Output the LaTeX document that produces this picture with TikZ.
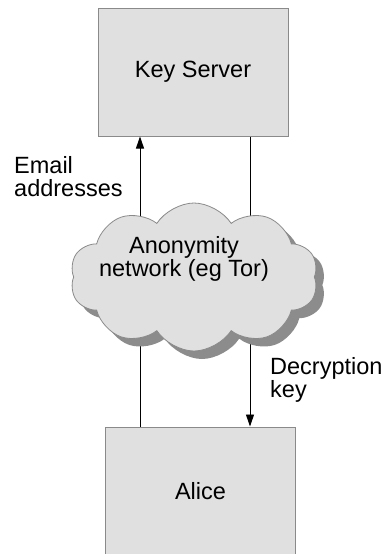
\documentclass[tikz,border=0pt]{standalone}
\usepackage{fontspec}
\setmainfont{Liberation Sans}
\usetikzlibrary{arrows.meta,shapes.symbols,shadows}
\definecolor{boxfill}{HTML}{E0E0E0}
\definecolor{boxline}{HTML}{8A8A8A}
\definecolor{shadowc}{HTML}{8C8C8C}
\begin{document}
\begin{tikzpicture}[x=1pt,y=-1pt,
  every node/.style={font=\fontsize{23.5}{23.5}\selectfont},
  srvbox/.style={draw=boxline,fill=boxfill,line width=1pt,minimum width=190pt,minimum height=128pt,inner sep=0pt},
  conn/.style={draw=black,line width=0.9pt},
  tip/.style={-{Triangle[width=8pt,length=12pt]}},
  lbl/.style={align=left,inner sep=0pt,anchor=north west}]
\useasboundingbox (0,0) rectangle (385,554);
\node[srvbox] (ks) at (193,72) {Key Server};
\node[srvbox] (alice) at (200.5,491) {Alice};
\coordinate (L) at (140,0);
\coordinate (R) at (250,0);
\draw[conn,tip] (L |- alice.north) -- (L |- ks.south);
\draw[conn,tip] (R |- ks.south) -- (R |- alice.north);
\node[cloud,cloud puffs=10,cloud puff arc=115,aspect=1.7,draw=boxline,fill=boxfill,line width=0.8pt,
  minimum width=248pt,minimum height=148pt,inner sep=0pt,
  drop shadow={shadow xshift=8pt,shadow yshift=-8pt,fill=shadowc,opacity=1}] (cloud) at (194,277) {};
\node[align=center,inner sep=0pt] (cl) at (184,259) {Anonymity\\network (eg Tor)};
\node[lbl] (email) at (14,156) {Email\\addresses};
\node[lbl] (dec) at (270,357) {Decryption\\key};
\end{tikzpicture}
\end{document}
